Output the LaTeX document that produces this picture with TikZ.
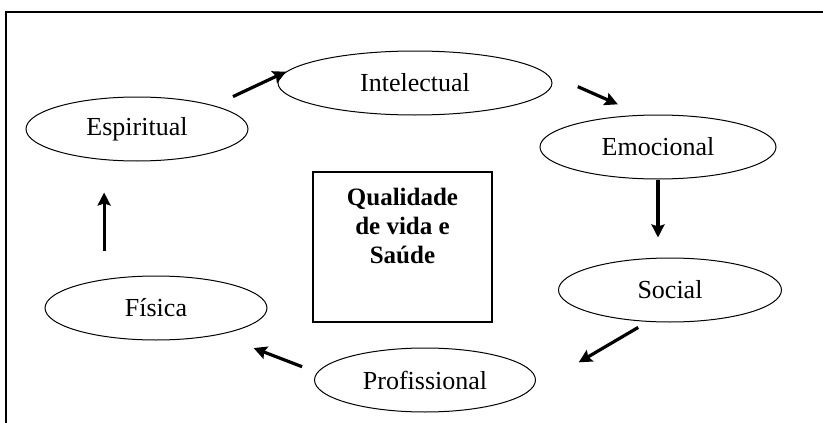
\documentclass[tikz,border=0pt]{standalone}
\usepackage{fontspec}
\setmainfont{Liberation Serif}
\usetikzlibrary{shapes,arrows.meta}

\begin{document}
\begin{tikzpicture}[
    x=1pt, y=-1pt,
    aspect/.style={ellipse, draw=black, line width=1pt, inner sep=0pt, font=\fontsize{26}{30}\selectfont},
    centre/.style={rectangle, draw=black, line width=1.4pt, inner sep=0pt, font=\bfseries\fontsize{25}{29}\selectfont},
    arrow/.style={-{Stealth[length=13pt,width=13pt,inset=2pt]}, line width=3.2pt},
    frame/.style={line width=2pt}
]
    \useasboundingbox (0,0) rectangle (823,423);
    \draw[frame] (6,423) -- (6,12) -- (823,12);

    \node[aspect, minimum width=274pt, minimum height=64pt] (intelectual) at (415,83) {Intelectual};
    \node[aspect, minimum width=222pt, minimum height=64pt] (espiritual) at (137,129) {Espiritual};
    \node[aspect, minimum width=236pt, minimum height=64pt] (emocional) at (658,147) {Emocional};
    \node[aspect, minimum width=223pt, minimum height=64pt] (social) at (670,290) {Social};
    \node[aspect, minimum width=221pt, minimum height=64pt] (profissional) at (425,380) {Profissional};
    \node[aspect, minimum width=222pt, minimum height=64pt] (fisica) at (156,308) {Física};

    \node[centre] (saude) at (402.5,247) {%
        \parbox[c][150pt][t]{179pt}{\centering\vspace*{16pt}Qualidade\\de vida e\\Saúde}};

    \draw[arrow, shorten <=21pt] (espiritual.17) -- (intelectual.175);
    \draw[arrow, shorten <=37pt, shorten >=26pt] (intelectual.5) -- (emocional.117);
    \draw[arrow, shorten >=20pt] (emocional.south) -- (emocional.south |- social.north);
    \draw[arrow, shorten <=11pt, shorten >=68pt] (social.235) -- (profissional.-10);
    \draw[arrow, shorten <=16pt, shorten >=37pt] (profissional.176) -- (fisica.-23);
    \draw[arrow, shorten <=28pt, shorten >=31pt] (fisica.151) -- (fisica.151 |- espiritual.south);
\end{tikzpicture}
\end{document}
